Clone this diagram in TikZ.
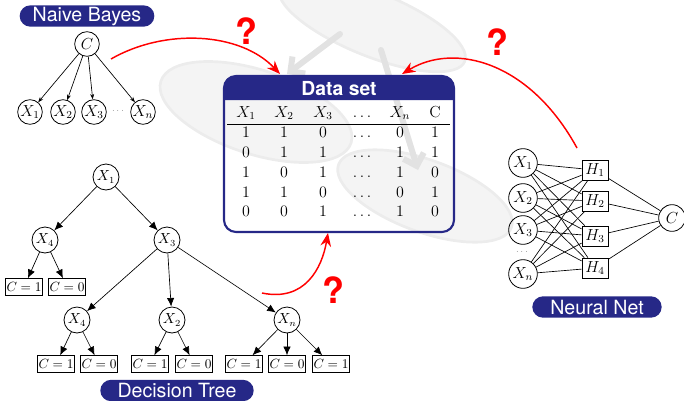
\documentclass[tikz,border=0pt]{standalone}
\usepackage{fontspec}
\setsansfont{TeX Gyre Heros}
\usetikzlibrary{arrows.meta,shapes.misc,calc}
\definecolor{dsblue}{RGB}{38,40,135}
\definecolor{wmfill}{RGB}{244,244,244}
\definecolor{wmrim}{RGB}{236,236,236}
\definecolor{wmline}{RGB}{226,226,226}
\tikzset{
  pill/.style={rounded rectangle, fill=dsblue, text=white, inner sep=0pt,
    minimum height=16pt, font=\fontsize{14.7}{16}\selectfont\sffamily},
  nbvar/.style={circle, draw, line width=0.6pt, inner sep=0pt, minimum size=18.5pt,
    font=\fontsize{11.5}{13}\selectfont},
  dtvar/.style={circle, draw, line width=0.6pt, inner sep=0pt, minimum size=19.5pt,
    font=\fontsize{10.5}{12}\selectfont},
  nnvar/.style={circle, draw, line width=0.6pt, inner sep=0pt, minimum size=21.5pt,
    font=\fontsize{12}{14}\selectfont},
  hidden/.style={draw, line width=0.6pt, inner sep=0pt, minimum width=19.5pt,
    minimum height=15pt, font=\fontsize{12}{14}\selectfont},
  leaf/.style={draw, line width=0.6pt, inner sep=1pt, minimum height=12.5pt,
    font=\fontsize{10}{12}\selectfont},
  nbedge/.style={-{Stealth[length=4pt,width=3pt]}, line width=0.5pt},
  dtedge/.style={-{Latex[length=6.5pt,width=5.5pt]}, line width=0.5pt},
  nnedge/.style={line width=0.5pt},
  query/.style={red, line width=1.1pt, -{Stealth[length=10pt,width=8pt]}},
  qmark/.style={text=red, inner sep=0pt, font=\fontsize{27}{30}\selectfont\sffamily\bfseries},
  cell/.style={inner sep=0pt, text height=8.6pt, text depth=2.4pt, font=\fontsize{12}{14}\selectfont},
  disk/.style={fill=wmfill, draw=wmrim, line width=2pt}
}
\begin{document}
\begin{tikzpicture}[x=0.75pt,y=-0.75pt]
\useasboundingbox (0,0) rectangle (684,400);

% faint background emblem: three disks joined by arrows
\path[disk, rotate around={-22:(372,24)}] (372,24) ellipse [x radius=100, y radius=32];
\path[disk, rotate around={-18:(256,112)}] (256,112) ellipse [x radius=100, y radius=42];
\path[disk, rotate around={-20:(425,196)}] (425,196) ellipse [x radius=92, y radius=36];
\coordinate (wa1) at (340,34);
\coordinate (wa2) at (287,74);
\coordinate (wb1) at (381,50);
\coordinate (wb2) at (418,170);
\draw[wmline, line width=4.5pt, line cap=round, -{Straight Barb[length=8pt,width=16pt]}] (wa1) -- (wa2);
\draw[wmline, line width=4.5pt, line cap=round, -{Straight Barb[length=8pt,width=16pt]}] (wb1) -- (wb2);

% ---------------- Naive Bayes ----------------
\node[pill, minimum width=101pt] (nblabel) at (87,16) {Naive Bayes};
\node[nbvar] (nbc) at (87,44) {$C$};
\node[nbvar] (nbx1) at (30,112) {$X_1$};
\node[nbvar] (nbx2) at (63,112) {$X_2$};
\node[nbvar] (nbx3) at (94,112) {$X_3$};
\node[inner sep=0pt, font=\tiny] (nbdots) at (118,111) {$\cdots$};
\node[nbvar] (nbxn) at (143,112) {$X_n$};
\foreach \t in {nbx1,nbx2,nbx3,nbxn} \draw[nbedge] (nbc) -- (\t);

% ---------------- Decision Tree ----------------
\node[dtvar] (d1) at (106,177) {$X_1$};
\node[dtvar] (d4) at (45,240) {$X_4$};
\node[dtvar] (d3) at (167,240) {$X_3$};
\node[leaf] (l1) at (24,287) {$C=1$};
\node[leaf] (l2) at (67,287) {$C=0$};
\node[dtvar] (e4) at (77,320) {$X_4$};
\node[dtvar] (e2) at (172,320) {$X_2$};
\node[dtvar] (en) at (287,320) {$X_n$};
\node[leaf] (m1) at (56,364) {$C=1$};
\node[leaf] (m2) at (99,364) {$C=0$};
\node[leaf] (m3) at (150,364) {$C=1$};
\node[leaf] (m4) at (194,364) {$C=0$};
\node[leaf] (m5) at (244,364) {$C=1$};
\node[leaf] (m6) at (287,364) {$C=0$};
\node[leaf] (m7) at (331,364) {$C=1$};
\foreach \a/\b in {d1/d4,d1/d3,d4/l1,d4/l2,d3/e4,d3/e2,d3/en,e4/m1,e4/m2,e2/m3,e2/m4,en/m5,en/m6,en/m7}
  \draw[dtedge] (\a) -- (\b);
\node[pill, minimum width=115pt] (dtlabel) at (177,390.5) {Decision Tree};

% ---------------- Neural Net ----------------
\node[nnvar] (nx1) at (523,163) {$X_1$};
\node[nnvar] (nx2) at (523,198) {$X_2$};
\node[nnvar] (nx3) at (523,230) {$X_3$};
\node[inner sep=0pt, font=\tiny] (nndots) at (522,252) {$\cdots$};
\node[nnvar] (nxn) at (523,274) {$X_n$};
\node[hidden] (h1) at (595,170) {$H_1$};
\node[hidden] (h2) at (595,201) {$H_2$};
\node[hidden] (h3) at (595,236) {$H_3$};
\node[hidden] (h4) at (595,268) {$H_4$};
\node[nnvar, minimum size=20pt] (nc) at (672,218) {$C$};
\foreach \x in {nx1,nx2,nx3,nxn}
  \foreach \h in {h1,h2,h3,h4}
    \draw[nnedge] (\x) -- (\h);
\foreach \h in {h1,h2,h3,h4} \draw[nnedge] (\h) -- (nc);
\node[pill, minimum width=97pt] (nnlabel) at (597,307) {Neural Net};

% ---------------- Data set ----------------
\fill[dsblue] (224,100) {[rounded corners=9pt] -- (224,76) -- (454,76)} -- (454,100) -- cycle;
\node[draw=dsblue, line width=1.6pt, rounded corners=9pt, minimum width=172.5pt,
  minimum height=117pt, inner sep=0pt] (ds) at (339,154) {};
\node[text=white, inner sep=0pt, font=\fontsize{14.5}{16}\selectfont\sffamily\bfseries]
  (dstitle) at (339,89) {Data set};
\foreach \x/\t [count=\j] in {246/$X_1$,284/$X_2$,323/$X_3$,362/$\ldots$,400/$X_n$,435/C}
  \node[cell] (th\j) at (\x,113) {\t};
\coordinate (rulel) at (227,124);
\coordinate (ruler) at (450,124);
\draw[line width=0.6pt] (rulel) -- (ruler);
\foreach \y/\a/\b/\c/\d/\e [count=\i] in
  {133/1/1/0/0/1, 153/0/1/1/1/1, 173/1/0/1/1/0, 193/1/1/0/0/1, 212/0/0/1/1/0}{
  \node[cell] (t\i-1) at (246,\y) {$\a$};
  \node[cell] (t\i-2) at (284,\y) {$\b$};
  \node[cell] (t\i-3) at (323,\y) {$\c$};
  \node[cell] (t\i-4) at (362,\y) {$\ldots$};
  \node[cell] (t\i-5) at (400,\y) {$\d$};
  \node[cell] (t\i-6) at (435,\y) {$\e$};
}

% ---------------- queries into the data set ----------------
\coordinate (qa0) at (111,59);
\coordinate (qa1) at (280,74);
\coordinate (qb0) at (577,148);
\coordinate (qb1) at (402,74);
\coordinate (qc0) at (262,293);
\coordinate (qc1) at (328,233);
\draw[query] (qa0) .. controls (165,28) and (240,32) .. (qa1);
\draw[query] (qb0) .. controls (530,62) and (455,42) .. (qb1);
\draw[query] (qc0) .. controls (305,302) and (322,268) .. (qc1);
\node[qmark] (qma) at (246,31) {?};
\node[qmark] (qmb) at (497,42) {?};
\node[qmark] (qmc) at (333,290) {?};
\end{tikzpicture}
\end{document}
